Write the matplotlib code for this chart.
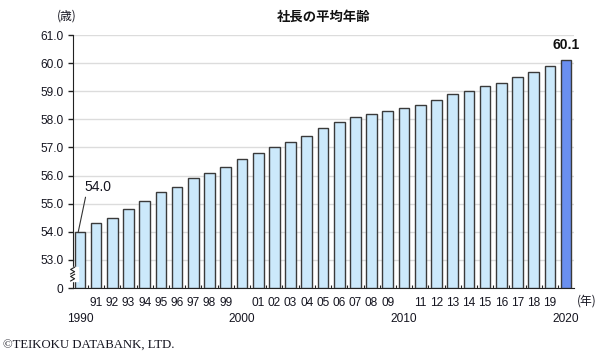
import matplotlib
matplotlib.use("Agg")
import matplotlib.pyplot as plt
from matplotlib.transforms import blended_transform_factory

years = list(range(1990, 2021))
ages = [54.0, 54.3, 54.5, 54.8, 55.1, 55.4, 55.6, 55.9, 56.1, 56.3,
        56.6, 56.8, 57.0, 57.2, 57.4, 57.7, 57.9, 58.1, 58.2, 58.3,
        58.4, 58.5, 58.7, 58.9, 59.0, 59.2, 59.3, 59.5, 59.7, 59.9,
        60.1]
ytick_vals = [52, 53, 54, 55, 56, 57, 58, 59, 60, 61]
ytick_labels = ['0', '53.0', '54.0', '55.0', '56.0', '57.0', '58.0', '59.0', '60.0', '61.0']
title = '社長の平均年齢'
y_unit = '(歳)'
x_unit = '(年)'
copyright_text = '©TEIKOKU DATABANK, LTD.'

plt.rcParams['font.family'] = ['Liberation Sans', 'Noto Sans CJK JP', 'DejaVu Sans']
JP = ['Noto Sans CJK JP', 'DejaVu Sans']
TXT = '#151520'
FS = 8.6

fig = plt.figure(figsize=(6.0, 3.58), dpi=100)
ax = fig.add_axes([0.121, 0.1955, 0.836, 0.7065])

base = ytick_vals[0]
xs = list(range(len(years)))
colors = ['#cce9fb'] * (len(years) - 1) + ['#6a8ff0']
ax.bar(xs, [a - base for a in ages], bottom=base, width=0.66, color=colors,
       edgecolor='#3a3a3a', linewidth=1.0, zorder=3)

ax.set_ylim(base, 61)
ax.set_xlim(-0.45, len(years) - 0.5)
ax.set_yticks(ytick_vals)
ax.set_yticklabels(ytick_labels)
for y in ytick_vals[1:]:
    ax.axhline(y, color='#dcdcdc', lw=1.0, zorder=1)

for s in ['top', 'right']:
    ax.spines[s].set_visible(False)
ax.spines['left'].set_color('#222222')
ax.spines['bottom'].set_color('#222222')
ax.tick_params(axis='y', direction='out', length=3.5, width=1, color='#222222',
               labelsize=FS, labelcolor=TXT, pad=3)
ax.set_xticks([x + 0.5 for x in xs[:-1]])
ax.set_xticklabels([])
ax.tick_params(axis='x', direction='in', length=2.5, width=0.8, color='#222222')

# x labels, two rows
trans = blended_transform_factory(ax.transData, ax.transAxes)
for x, yr in zip(xs, years):
    if yr % 10 == 0:
        ax.text(x, -0.122, str(yr), transform=trans, ha='center', va='center',
                fontsize=FS, color=TXT)
    else:
        ax.text(x, -0.058, f'{yr % 100:02d}', transform=trans, ha='center', va='center',
                fontsize=FS, color=TXT)

# axis break symbol
tb = blended_transform_factory(ax.transAxes, ax.transData)
ax.add_patch(plt.Rectangle((-0.01, 52.25), 0.02, 0.5, transform=tb, color='white',
                           zorder=5, clip_on=False))
for y0 in (52.25, 52.5):
    ax.plot([-0.004, 0.004, -0.004, 0.004], [y0, y0 + 0.08, y0 + 0.16, y0 + 0.24],
            transform=tb, color='#222222', lw=0.8, clip_on=False, zorder=6)

# annotations
ax.annotate(f'{ages[0]:.1f}', xy=(-0.1, ages[0]), xytext=(0.25, 55.58),
            ha='left', va='center', fontsize=10, color=TXT,
            arrowprops=dict(arrowstyle='-', color='#333333', lw=0.8,
                            relpos=(0.08, 0.0), shrinkA=0, shrinkB=0), zorder=6)
ax.annotate(f'{ages[-1]:.1f}', xy=(xs[-1], ages[-1]), xytext=(0, 6),
            textcoords='offset points', ha='center', va='bottom', fontsize=10,
            fontweight='bold', color='#111111')

fig.text(0.54, 0.953, title, ha='center', va='center', fontsize=9.6,
         fontweight='bold', family=JP, color='#111111')
fig.text(0.111, 0.955, y_unit, ha='center', va='center', fontsize=8.5,
         family=JP, color=TXT)
fig.text(0.978, 0.16, x_unit, ha='center', va='center', fontsize=8.5,
         family=JP, color=TXT)
fig.text(0.005, 0.036, copyright_text, ha='left', va='center', fontsize=9.2,
         family=['Liberation Serif', 'DejaVu Serif'], color=TXT)

fig.savefig('out.png', dpi=100, facecolor='white')
